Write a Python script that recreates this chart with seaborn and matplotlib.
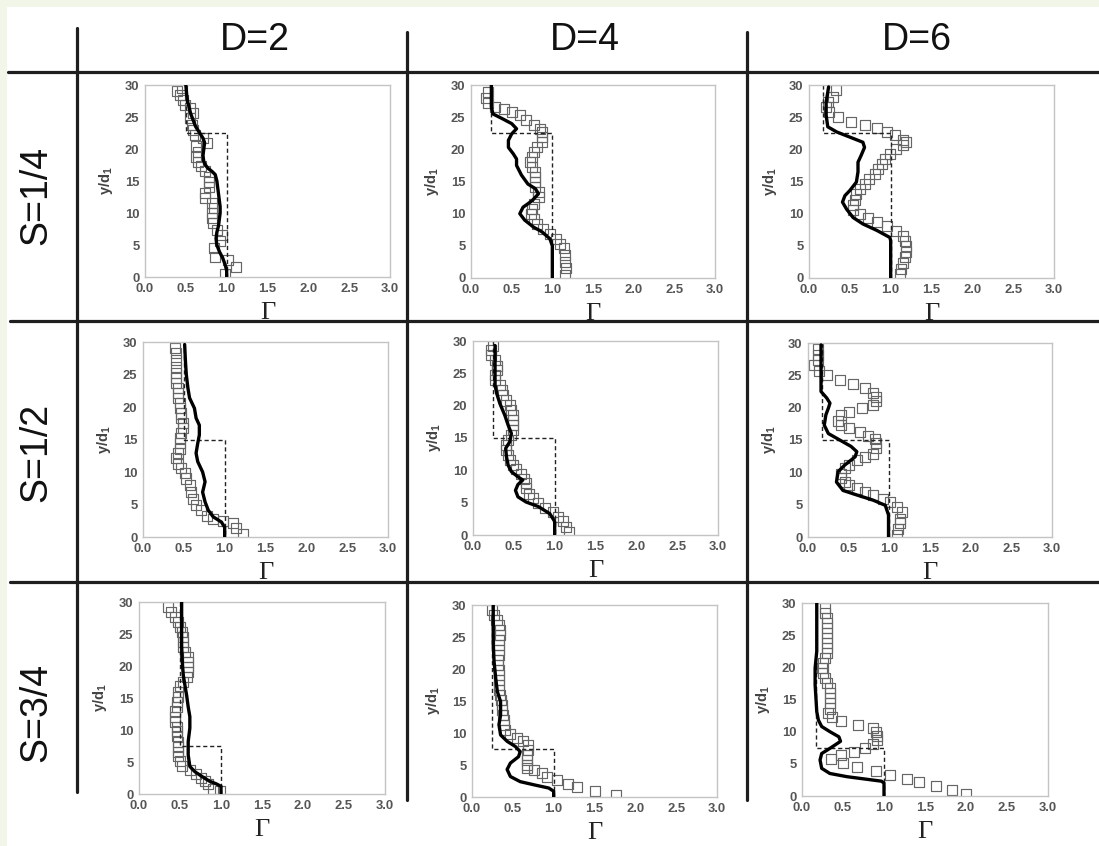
import matplotlib
matplotlib.use("Agg")
import matplotlib.pyplot as plt
from matplotlib import font_manager
from matplotlib.lines import Line2D
from matplotlib.patches import Rectangle
from matplotlib.ticker import MultipleLocator, AutoMinorLocator, FormatStrFormatter
import seaborn as sns

# ---------------------------------------------------------------- data
D_LABELS = ["D=2", "D=4", "D=6"]
S_LABELS = ["S=1/4", "S=1/2", "S=3/4"]
STEP_HEIGHT = [22.5, 15.0, 7.5]          # y/d1 of the step, per S row
GAMMA_LOW = [0.5, 0.25, 0.17]            # lower Gamma of the step, per D column

# S=1/4
S14_D2_SIM_Y = [0, 1, 2, 3, 4, 5, 6, 7, 8, 9, 10, 11, 12, 13, 14, 15, 16, 16.5, 17, 17.5, 18, 19, 20, 21,
                21.7, 22.5, 23.5, 24.5, 25.5, 26.5, 27.5, 28.5, 30]
S14_D2_SIM_G = [1.0, 1.0, 0.98, 0.95, 0.91, 0.88, 0.87, 0.88, 0.9, 0.91, 0.92, 0.92, 0.91, 0.9, 0.89, 0.88,
                0.86, 0.82, 0.77, 0.74, 0.72, 0.71, 0.72, 0.73, 0.71, 0.67, 0.62, 0.59, 0.56, 0.54, 0.52, 0.51, 0.5]
S14_D2_EXP_Y = [0.4, 1.5, 2.7, 3.2, 4.5, 5.6, 6.6, 7.4, 8.4, 9.2, 10.0, 10.8, 11.5, 12.3, 13.1, 14.1, 14.9,
                15.7, 16.5, 17.3, 18.0, 18.8, 19.6, 20.4, 20.9, 21.7, 22.2, 23.0, 23.8, 24.8, 25.6, 26.4, 26.9,
                27.7, 28.4, 29.0, 29.5]
S14_D2_EXP_G = [0.98, 1.12, 1.02, 0.86, 0.84, 0.92, 0.94, 0.88, 0.83, 0.82, 0.82, 0.84, 0.82, 0.73, 0.73,
                0.78, 0.78, 0.78, 0.73, 0.69, 0.65, 0.63, 0.65, 0.63, 0.76, 0.71, 0.61, 0.59, 0.57, 0.55, 0.59,
                0.55, 0.49, 0.47, 0.43, 0.39, 0.45]

S14_D4_SIM_Y = [0, 5, 6.1, 7.2, 7.9, 9, 10, 11, 12, 13.1, 13.9, 14.6, 16, 17.5, 18.5, 19.3, 20.3, 21.4, 22.4,
                23.2, 24, 24.8, 25.5, 26.6, 30]
S14_D4_SIM_G = [1.0, 1.0, 0.97, 0.87, 0.77, 0.66, 0.6, 0.64, 0.75, 0.83, 0.79, 0.7, 0.62, 0.56, 0.56, 0.52,
                0.46, 0.46, 0.5, 0.56, 0.5, 0.38, 0.27, 0.25, 0.25]
S14_D4_EXP_Y = [0.4, 1.5, 2.5, 3.5, 4.6, 5.3, 6.1, 6.9, 7.6, 8.4, 9.2, 10, 10.7, 11.5, 12.6, 13.3, 14.1, 14.9,
                15.7, 16.5, 17.2, 18, 18.8, 19.6, 20.3, 21.1, 21.9, 22.7, 23.2, 23.8, 24.5, 25.3, 25.8, 26.3,
                26.6, 27.2, 28, 28.9]
S14_D4_EXP_G = [1.16, 1.17, 1.16, 1.16, 1.14, 1.09, 1.05, 0.97, 0.89, 0.81, 0.77, 0.74, 0.75, 0.77, 0.83, 0.83,
                0.79, 0.79, 0.79, 0.79, 0.75, 0.73, 0.75, 0.77, 0.81, 0.87, 0.87, 0.87, 0.85, 0.77, 0.68, 0.6,
                0.5, 0.4, 0.3, 0.21, 0.19, 0.21]

S14_D6_SIM_Y = [0, 5.8, 6.3, 7.4, 8.4, 9.4, 10.7, 11.8, 12.8, 13.6, 14.9, 16.5, 18, 19.1, 20.3, 21.1, 21.9,
                22.7, 23.5, 25.3, 27.3, 29.7]
S14_D6_SIM_G = [1.0, 1.0, 0.99, 0.83, 0.66, 0.54, 0.46, 0.41, 0.44, 0.5, 0.58, 0.6, 0.6, 0.64, 0.68, 0.66,
                0.5, 0.34, 0.23, 0.21, 0.21, 0.24]
S14_D6_EXP_Y = [0.6, 1.4, 2.3, 3.2, 4.1, 4.9, 5.8, 6.6, 7.3, 8.1, 8.7, 9.3, 9.9, 10.5, 11.3, 12.1, 13, 13.9,
                14.6, 15.4, 16.2, 17, 17.7, 18.5, 19.3, 20.1, 20.6, 21.1, 21.4, 22.2, 22.7, 23.3, 23.8, 24.3,
                25, 25.8, 26.6, 27.3, 28.1, 29.2]
S14_D6_EXP_G = [1.11, 1.13, 1.15, 1.17, 1.19, 1.19, 1.17, 1.15, 1.07, 0.95, 0.83, 0.72, 0.62, 0.54, 0.54,
                0.56, 0.58, 0.62, 0.68, 0.74, 0.81, 0.85, 0.89, 0.93, 0.99, 1.07, 1.15, 1.19, 1.15, 1.05, 0.95,
                0.83, 0.68, 0.52, 0.36, 0.25, 0.21, 0.23, 0.29, 0.33]

# S=1/2
S12_D2_SIM_Y = [0, 1.5, 2.3, 3.1, 4.1, 5.4, 6.9, 8.5, 10, 11.6, 12.9, 14.4, 15.7, 17.2, 18.3, 19.8, 21.4,
                22.9, 25, 27, 29.6]
S12_D2_SIM_G = [1.0, 1.0, 0.96, 0.86, 0.8, 0.76, 0.73, 0.76, 0.73, 0.67, 0.65, 0.67, 0.69, 0.69, 0.65, 0.63,
                0.57, 0.55, 0.53, 0.52, 0.51]
S12_D2_EXP_Y = [0.5, 1.4, 2.1, 2.4, 2.8, 3.3, 4.1, 4.9, 5.9, 6.9, 8, 9, 9.8, 10.6, 11.3, 12.1, 12.9, 13.6,
                14.4, 15.2, 16, 16.7, 17.5, 18.3, 19, 19.8, 20.6, 21.4, 22.1, 22.9, 23.7, 24.5, 25.2, 26.2,
                27.3, 28.3, 29.1]
S12_D2_EXP_G = [1.22, 1.14, 1.1, 0.98, 0.86, 0.78, 0.71, 0.65, 0.61, 0.59, 0.57, 0.53, 0.51, 0.47, 0.43, 0.41,
                0.43, 0.45, 0.45, 0.45, 0.47, 0.49, 0.49, 0.47, 0.47, 0.45, 0.45, 0.43, 0.43, 0.43, 0.41, 0.41,
                0.41, 0.41, 0.41, 0.41, 0.39]

S12_D4_SIM_Y = [0, 2.1, 3.3, 4.4, 5.1, 5.9, 6.9, 7.8, 8.5, 9, 9.8, 10.8, 12.1, 13.4, 14.4, 15.7, 17, 18.5,
                20.3, 21.9, 23.2, 25.3, 29.3]
S12_D4_SIM_G = [1.0, 1.0, 0.94, 0.8, 0.65, 0.55, 0.52, 0.55, 0.61, 0.55, 0.47, 0.43, 0.41, 0.4, 0.45, 0.47,
                0.43, 0.39, 0.33, 0.29, 0.27, 0.27, 0.27]
S12_D4_EXP_Y = [0.5, 1.3, 2.1, 2.8, 3.6, 4.2, 4.9, 5.7, 6.4, 7.2, 8, 8.7, 9.5, 10.2, 10.9, 11.6, 12.4, 13.1,
                13.9, 14.7, 15.4, 16.2, 17, 17.8, 18.5, 19.3, 20.1, 20.8, 21.6, 22.4, 23.2, 23.9, 24.7, 25.5,
                26.2, 27, 27.8, 28.6, 29.3]
S12_D4_EXP_G = [1.18, 1.14, 1.1, 1.04, 0.98, 0.88, 0.8, 0.73, 0.69, 0.65, 0.65, 0.63, 0.59, 0.53, 0.49, 0.45,
                0.43, 0.41, 0.41, 0.43, 0.47, 0.49, 0.49, 0.49, 0.49, 0.47, 0.45, 0.41, 0.37, 0.35, 0.33, 0.27,
                0.27, 0.29, 0.29, 0.27, 0.22, 0.22, 0.24]

S12_D6_SIM_Y = [0, 3.4, 4.9, 5.7, 6.5, 7.2, 8.5, 10.1, 11.1, 12.4, 13.2, 14, 15, 16, 17.3, 18.9, 19.9, 20.7,
                21.5, 22.5, 24.1, 29.7]
S12_D6_SIM_G = [0.99, 0.99, 0.95, 0.8, 0.6, 0.43, 0.35, 0.37, 0.45, 0.58, 0.6, 0.53, 0.39, 0.25, 0.2, 0.22,
                0.25, 0.27, 0.23, 0.16, 0.16, 0.16]
S12_D6_EXP_Y = [0.3, 1.3, 2.1, 2.8, 3.9, 4.7, 5.4, 5.9, 6.5, 7, 7.5, 8, 8.5, 9.1, 9.8, 10.6, 11.2, 11.9, 12.4,
                12.9, 13.7, 14.5, 15.1, 15.6, 16.2, 16.8, 17.3, 18, 18.8, 19.4, 19.9, 20.4, 21.1, 21.7, 22.3,
                23, 23.6, 24.3, 25.1, 25.6, 26.6, 27.4, 28.2, 29]
S12_D6_EXP_G = [1.09, 1.11, 1.13, 1.13, 1.15, 1.09, 1.01, 0.92, 0.8, 0.7, 0.6, 0.51, 0.45, 0.41, 0.41, 0.45,
                0.51, 0.6, 0.7, 0.8, 0.84, 0.84, 0.82, 0.74, 0.64, 0.51, 0.41, 0.37, 0.41, 0.51, 0.66, 0.8,
                0.84, 0.84, 0.8, 0.7, 0.55, 0.39, 0.23, 0.14, 0.08, 0.12, 0.12, 0.12]

# S=3/4
S34_D2_SIM_Y = [0, 1.2, 1.6, 2, 2.8, 3.5, 4.3, 6.1, 8.2, 10.3, 12.1, 13.6, 15.5, 17, 18.6, 20.1, 23.2, 27.4, 30]
S34_D2_SIM_G = [1.0, 1.0, 0.94, 0.86, 0.76, 0.68, 0.62, 0.6, 0.6, 0.62, 0.62, 0.6, 0.58, 0.56, 0.54, 0.53,
                0.52, 0.52, 0.52]
S34_D2_EXP_Y = [0.4, 0.8, 1.5, 2, 2.5, 3.1, 3.8, 4.3, 5.1, 5.9, 6.6, 7.4, 8.2, 9, 9.8, 10.5, 11.3, 12.1,
                12.9, 13.6, 14.4, 15.2, 16, 16.8, 17.5, 18.3, 19.1, 19.9, 20.7, 21.4, 22.2, 23, 23.8, 24.5,
                25.3, 26.1, 26.9, 27.7, 28.4, 29.2]
S34_D2_EXP_G = [0.99, 0.9, 0.84, 0.8, 0.76, 0.7, 0.62, 0.52, 0.5, 0.48, 0.48, 0.48, 0.48, 0.46, 0.46, 0.46,
                0.44, 0.44, 0.44, 0.46, 0.46, 0.48, 0.48, 0.5, 0.54, 0.58, 0.6, 0.6, 0.6, 0.6, 0.56, 0.54,
                0.54, 0.54, 0.52, 0.5, 0.48, 0.44, 0.39, 0.35]

S34_D4_SIM_Y = [0, 0.9, 1.4, 1.9, 2.4, 3.2, 4.3, 5.3, 6.3, 7.1, 7.9, 8.7, 9.7, 11.3, 12.8, 14.9, 16.5, 18.6,
                21.2, 23.8, 26.4, 30]
S34_D4_SIM_G = [1.0, 1.0, 0.94, 0.76, 0.59, 0.47, 0.43, 0.47, 0.57, 0.59, 0.53, 0.43, 0.35, 0.33, 0.35, 0.35,
                0.31, 0.29, 0.27, 0.26, 0.26, 0.26]
S34_D4_EXP_Y = [0.3, 0.9, 1.5, 2.1, 2.7, 3.2, 3.7, 4.2, 4.5, 5.0, 5.8, 6.6, 7.4, 8.2, 8.7, 9.2, 9.9, 10.5,
                11.3, 12.1, 12.8, 13.6, 14.4, 15.2, 16, 16.7, 17.5, 18.3, 19.1, 19.9, 20.6, 21.4, 22.2, 23,
                23.8, 24.5, 25.3, 26.1, 26.9, 27.7, 28.4, 29.2]
S34_D4_EXP_G = [1.76, 1.51, 1.29, 1.18, 1.04, 0.92, 0.86, 0.76, 0.67, 0.67, 0.67, 0.67, 0.69, 0.69, 0.63,
                0.55, 0.47, 0.41, 0.39, 0.39, 0.38, 0.37, 0.37, 0.36, 0.34, 0.33, 0.33, 0.33, 0.33, 0.33, 0.32,
                0.32, 0.33, 0.33, 0.33, 0.33, 0.34, 0.34, 0.33, 0.3, 0.27, 0.24]

S34_D6_SIM_Y = [0, 2, 2.3, 2.6, 3, 3.5, 4.3, 5.6, 6.6, 7.4, 8.5, 9.2, 10, 10.8, 11.8, 13.1, 15.2, 17.3, 19.9,
                22.5, 27.7, 30]
S34_D6_SIM_G = [1.0, 1.0, 0.97, 0.79, 0.55, 0.34, 0.24, 0.22, 0.24, 0.34, 0.47, 0.45, 0.34, 0.24, 0.2, 0.18,
                0.17, 0.16, 0.16, 0.18, 0.18, 0.18]
S34_D6_EXP_Y = [0.3, 0.9, 1.5, 2.1, 2.7, 3.3, 3.9, 4.5, 5.1, 5.7, 6.3, 6.9, 7.5, 8.1, 8.7, 9.3, 9.9, 10.5,
                11.1, 11.7, 12.3, 12.9, 13.6, 14.4, 15.2, 16, 16.8, 17.5, 18.3, 19.1, 19.9, 20.7, 21.4, 22.2,
                23, 23.8, 24.5, 25.3, 26.1, 26.9, 27.7, 28.4, 29.2]
S34_D6_EXP_G = [2.0, 1.83, 1.63, 1.43, 1.28, 1.07, 0.9, 0.67, 0.5, 0.35, 0.47, 0.63, 0.77, 0.87, 0.92, 0.92,
                0.9, 0.86, 0.68, 0.48, 0.37, 0.32, 0.34, 0.34, 0.34, 0.34, 0.34, 0.3, 0.28, 0.26, 0.24, 0.26,
                0.28, 0.3, 0.3, 0.3, 0.31, 0.3, 0.3, 0.3, 0.3, 0.28, 0.28]

PANELS = [
    [(S14_D2_SIM_G, S14_D2_SIM_Y, S14_D2_EXP_G, S14_D2_EXP_Y),
     (S14_D4_SIM_G, S14_D4_SIM_Y, S14_D4_EXP_G, S14_D4_EXP_Y),
     (S14_D6_SIM_G, S14_D6_SIM_Y, S14_D6_EXP_G, S14_D6_EXP_Y)],
    [(S12_D2_SIM_G, S12_D2_SIM_Y, S12_D2_EXP_G, S12_D2_EXP_Y),
     (S12_D4_SIM_G, S12_D4_SIM_Y, S12_D4_EXP_G, S12_D4_EXP_Y),
     (S12_D6_SIM_G, S12_D6_SIM_Y, S12_D6_EXP_G, S12_D6_EXP_Y)],
    [(S34_D2_SIM_G, S34_D2_SIM_Y, S34_D2_EXP_G, S34_D2_EXP_Y),
     (S34_D4_SIM_G, S34_D4_SIM_Y, S34_D4_EXP_G, S34_D4_EXP_Y),
     (S34_D6_SIM_G, S34_D6_SIM_Y, S34_D6_EXP_G, S34_D6_EXP_Y)],
]

# ---------------------------------------------------------------- layout (pixels)
W, H = 1099, 846
# axes boxes: left, right, top, bottom
AX_BOX = [
    [(145, 390, 85, 277), (471, 715, 85, 278), (809, 1054, 85, 278)],
    [(143, 388, 342, 537), (473, 718, 341, 535), (808, 1052, 343, 537)],
    [(139, 385, 602, 794), (472, 717, 605, 797), (802, 1048, 603, 796)],
]
COL_CENTER = [255, 585, 917]
ROW_CENTER = [195, 452, 712]


def pick_font(names):
    for n in names:
        try:
            font_manager.findfont(font_manager.FontProperties(family=n), fallback_to_default=False)
            return n
        except ValueError:
            continue
    return "DejaVu Sans"


sns.set_theme(style="white")
SANS = pick_font(["Liberation Sans", "Arial", "DejaVu Sans"])
NARROW = pick_font(["Liberation Sans Narrow", "Arial Narrow", SANS])
SERIF = pick_font(["Liberation Serif", "Times New Roman", "DejaVu Serif"])
plt.rcParams["font.family"] = [SANS, "DejaVu Sans"]
plt.rcParams["mathtext.fontset"] = "custom"
plt.rcParams["mathtext.rm"] = SANS
plt.rcParams["mathtext.it"] = SANS
plt.rcParams["mathtext.bf"] = SANS + ":bold"

fig = plt.figure(figsize=(W / 100, H / 100), dpi=100, facecolor="#f2f6e8")
fig.patches.append(Rectangle((7 / W, 0), 1 - 7 / W, 1 - 7 / H, transform=fig.transFigure,
                             facecolor="white", edgecolor="none", zorder=-10))


def fx(px):
    return px / W


def fy(py):
    return 1 - py / H


GRID_COLOR = "#1e1e1e"
GRID_LW = 2.3
# table rules
for y0, x0 in [(72, 8), (321, 10), (582, 10)]:
    fig.add_artist(Line2D([fx(x0), fx(W)], [fy(y0), fy(y0)], color=GRID_COLOR, lw=GRID_LW))
for x0, ytop, ybot in [(77, 28, 792), (407, 32, 800), (747, 32, 800)]:
    fig.add_artist(Line2D([fx(x0), fx(x0)], [fy(ytop), fy(ybot)], color=GRID_COLOR, lw=GRID_LW))

for j, lab in enumerate(D_LABELS):
    fig.text(fx(COL_CENTER[j]), fy(40), lab, ha="center", va="center", fontsize=27,
             family=[NARROW, "DejaVu Sans"], color="#111")
for i, lab in enumerate(S_LABELS):
    fig.text(fx(36), fy(ROW_CENTER[i]), lab, ha="center", va="center", rotation=90, fontsize=27,
             family=[NARROW, "DejaVu Sans"], color="#111")

for i in range(3):
    for j in range(3):
        l, r, t, b = AX_BOX[i][j]
        ax = fig.add_axes([fx(l), fy(b), (r - l) / W, (b - t) / H])
        sim_g, sim_y, exp_g, exp_y = PANELS[i][j]

        sns.scatterplot(x=exp_g, y=exp_y, marker="s", s=52, color="white", edgecolor="#666666",
                        linewidth=0.85, ax=ax, zorder=2, legend=False)
        for coll in ax.collections:
            coll.set_facecolor("none")

        h = STEP_HEIGHT[i]
        g0 = GAMMA_LOW[j]
        ax.plot([g0, g0, 1.0, 1.0], [30, h, h, 0], color="#222", lw=1.0,
                dashes=(3, 2), zorder=2.5)

        sns.lineplot(x=sim_g, y=sim_y, sort=False, estimator=None, color="black", lw=2.4,
                     ax=ax, zorder=3)

        ax.xaxis.set_major_locator(MultipleLocator(0.5))
        ax.xaxis.set_minor_locator(AutoMinorLocator(2))
        ax.xaxis.set_major_formatter(FormatStrFormatter("%.1f"))
        ax.yaxis.set_major_locator(MultipleLocator(5))
        ax.yaxis.set_minor_locator(AutoMinorLocator(2))
        ax.set_xlim(0, 3)
        ax.set_ylim(0, 30)
        ax.tick_params(which="both", direction="in", color="#b0b0b0", width=0.8,
                       labelsize=9.4, labelcolor="#555555")
        ax.tick_params(axis="x", pad=4)
        ax.tick_params(axis="y", pad=4)
        ax.tick_params(which="major", length=3)
        ax.tick_params(which="minor", length=2)
        for lab in ax.get_xticklabels() + ax.get_yticklabels():
            lab.set_fontweight("bold")
        for sp in ax.spines.values():
            sp.set_color("#c4c4c4")
            sp.set_linewidth(1.0)
            sp.set_visible(True)

        ax.set_xlabel("\u0393", fontsize=19, family=[SERIF, "DejaVu Serif"], color="#222")
        ax.xaxis.set_label_coords(0.5, -25 / (b - t))
        ax.set_ylabel("y/d$_\\mathbf{1}$", fontsize=10.5, color="#444", fontweight="bold")
        ax.yaxis.set_label_coords(-30 / (r - l), 0.5)

fig.savefig("out.png", dpi=100, facecolor=fig.get_facecolor())
